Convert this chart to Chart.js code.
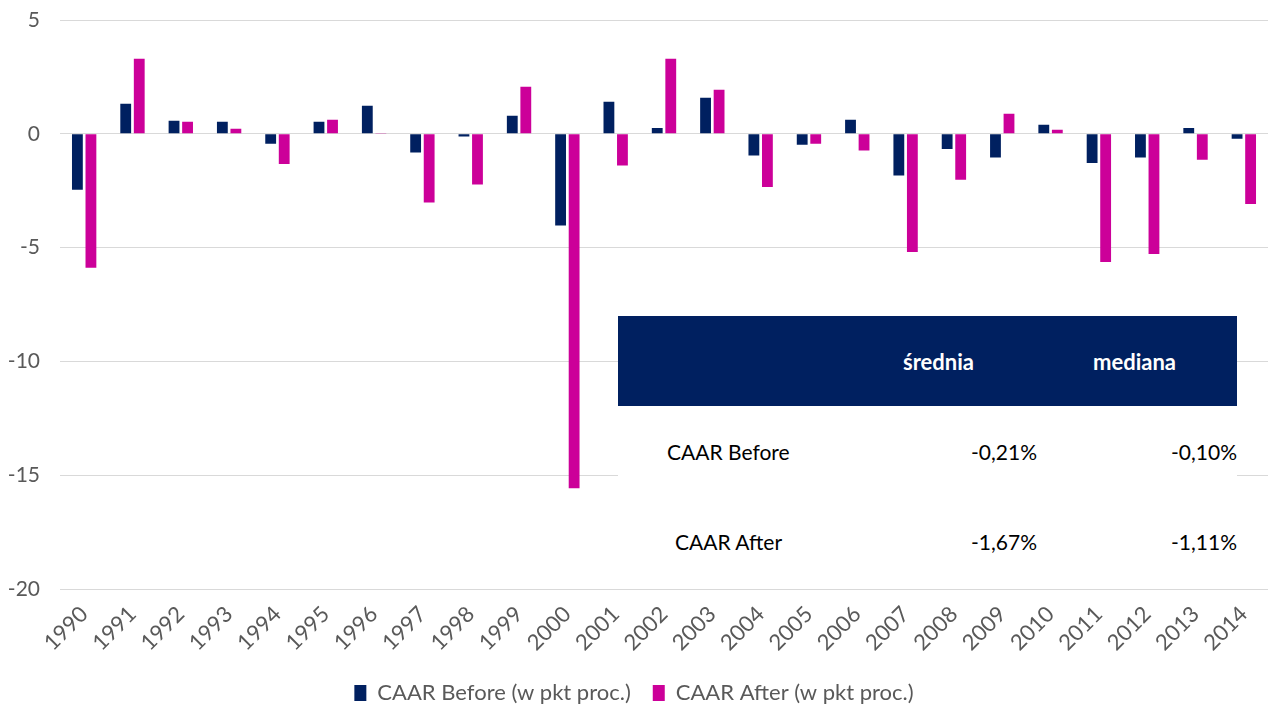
<!DOCTYPE html>
<html>
<head>
<meta charset="utf-8">
<script src="https://cdn.jsdelivr.net/npm/chart.js@4"></script>
<style>
  html, body { margin: 0; padding: 0; background: #fff; }
  #wrap { position: relative; width: 1280px; height: 720px; font-family: Lato, "Open Sans", sans-serif; }
  #stats { position: absolute; left: 618px; top: 316px; width: 619px; height: 268px; background: #fff; }
  #stats .head { height: 90px; background: #002060; color: #fff; font-weight: bold; font-size: 22px; position: relative; }
  #stats .cell { position: absolute; font-size: 21px; color: #000; }
  #stats .head .cell { font-size: 22px; color: #fff; top: 32px; }
</style>
</head>
<body>
<div id="wrap">
  <canvas id="chart" width="1280" height="720"></canvas>
  <div id="stats">
    <div class="head">
      <span class="cell" style="left:285px;">średnia</span>
      <span class="cell" style="left:475px;">mediana</span>
    </div>
    <span class="cell" style="left:49px;top:123px;">CAAR Before</span>
    <span class="cell" style="right:200px;top:123px;">-0,21%</span>
    <span class="cell" style="right:0px;top:123px;">-0,10%</span>
    <span class="cell" style="left:57px;top:213px;">CAAR After</span>
    <span class="cell" style="right:200px;top:213px;">-1,67%</span>
    <span class="cell" style="right:0px;top:213px;">-1,11%</span>
  </div>
</div>
<script>
// CAAR per year, in percentage points
const years = ["1990", "1991", "1992", "1993", "1994", "1995", "1996", "1997", "1998", "1999",
    "2000", "2001", "2002", "2003", "2004", "2005", "2006", "2007", "2008", "2009",
    "2010", "2011", "2012", "2013", "2014"];
const caarBefore = [-2.46, 1.32, 0.57, 0.53, -0.44, 0.53, 1.23, -0.82, -0.12, 0.79,
    -4.03, 1.41, 0.26, 1.58, -0.95, -0.48, 0.62, -1.83, -0.66, -1.04,
    0.40, -1.28, -1.04, 0.26, -0.22];
const caarAfter = [-5.88, 3.30, 0.53, 0.22, -1.32, 0.62, 0.04, -3.02, -2.23, 2.07,
    -15.57, -1.39, 3.30, 1.94, -2.33, -0.44, -0.73, -5.19, -2.02, 0.88,
    0.18, -5.63, -5.28, -1.14, -3.08];
const yMin = -20, yMax = 5, yStep = 5;

const navy = "#002060";
const magenta = "#CC0099";
const grey = "#595959";

const ctx = document.getElementById("chart").getContext("2d");
new Chart(ctx, {
    type: "bar",
    data: {
        labels: years,
        datasets: [
            { label: "CAAR Before (w pkt proc.)", data: caarBefore, backgroundColor: navy },
            { label: "CAAR After (w pkt proc.)", data: caarAfter, backgroundColor: magenta }
        ]
    },
    options: {
        responsive: false,
        animation: false,
        devicePixelRatio: 1,
        categoryPercentage: 0.56,
        barPercentage: 0.8,
        layout: { padding: { left: 0, right: 12, top: 20, bottom: 6 } },
        plugins: {
            tooltip: { enabled: false },
            legend: {
                position: "bottom",
                labels: {
                    color: grey,
                    font: { family: "Lato", size: 22 },
                    boxWidth: 12,
                    boxHeight: 16,
                    padding: 22
                }
            }
        },
        scales: {
            x: {
                grid: { display: false },
                border: { display: false },
                ticks: {
                    color: grey,
                    font: { family: "Lato", size: 22 },
                    maxRotation: 45,
                    minRotation: 45,
                    padding: 4
                },
                afterFit: (scale) => { scale.paddingLeft = 0; scale.paddingRight = 0; }
            },
            y: {
                min: yMin,
                max: yMax,
                grid: { color: "#d9d9d9", lineWidth: 1, drawTicks: false },
                border: { display: false },
                ticks: {
                    stepSize: yStep,
                    color: grey,
                    font: { family: "Lato", size: 21 },
                    padding: 20
                },
                afterFit: (scale) => {
                    scale.width = 60;
                    scale.paddingTop = 0;
                    scale.paddingBottom = 0;
                }
            }
        }
    }
});
</script>
</body>
</html>
